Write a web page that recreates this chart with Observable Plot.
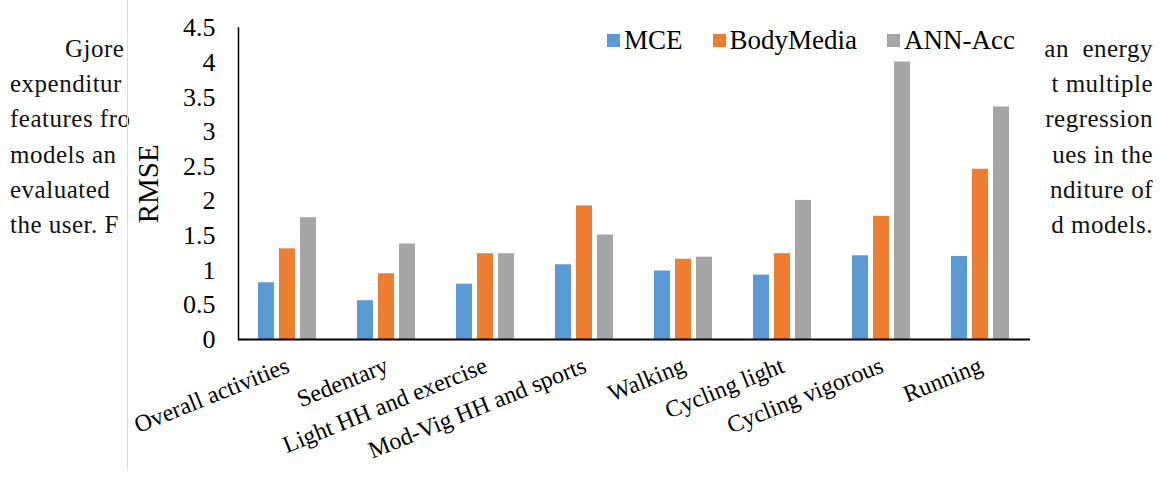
<!DOCTYPE html>
<html><head><meta charset="utf-8">
<script src="https://cdn.jsdelivr.net/npm/d3@7"></script>
<script src="https://cdn.jsdelivr.net/npm/@observablehq/plot@0.6"></script>
<style>
html,body{margin:0;padding:0;background:#fff;}
#wrap{position:relative;width:1161px;height:485px;overflow:hidden;}
.paper{position:absolute;top:31px;font-family:"Liberation Serif",serif;font-size:25px;line-height:35.2px;letter-spacing:0.5px;color:#111;}
.paper div{white-space:pre;}
#pl{left:10px;}
#pl .ind{padding-left:55px;}
#pr{right:8px;text-align:right;}
#panel{position:absolute;left:127px;top:0;width:1px;height:470px;background:#dcdcdc;}
#chart{position:absolute;left:0;top:0;}
#legend{position:absolute;left:607px;top:24px;}
#legend .lg-swatch{margin-right:30px;}
#legend .lg-swatch > svg{margin-right:4px;}
</style></head><body>
<div id="wrap">
  <div class="paper" id="pl"><div class="ind">Gjore</div><div>expenditur</div><div>features fro</div><div>models an</div><div>evaluated</div><div>the user. F</div></div>
  <div class="paper" id="pr"><div>an  energy</div><div>t multiple</div><div>regression</div><div>ues in the</div><div>nditure of</div><div>d models.</div></div>
  <div id="panel"></div>
  <div id="chart"></div>
  <div id="legend"></div>
</div>
<script>
const categories = ["Overall activities","Sedentary","Light HH and exercise","Mod-Vig HH and sports","Walking","Cycling light","Cycling vigorous","Running"];
const series = ["MCE","BodyMedia","ANN-Acc"];
const mce = [0.82,0.56,0.80,1.08,0.99,0.93,1.21,1.20];
const bodyMedia = [1.31,0.95,1.24,1.93,1.16,1.24,1.78,2.46];
const annAcc = [1.76,1.38,1.24,1.51,1.19,2.01,4.01,3.36];
const yTicks = [0,0.5,1,1.5,2,2.5,3,3.5,4,4.5];
const colors = ["#5B9BD5","#ED7D31","#A5A5A5"];

const valuesBySeries = [mce, bodyMedia, annAcc];
const data = categories.flatMap((c, i) => series.map((s, j) => ({category: c, series: s, value: valuesBySeries[j][i]})));

const font = "'Liberation Serif', 'Times New Roman', serif";
const chart = Plot.plot({
  width: 1161, height: 485,
  marginLeft: 238, marginRight: 131, marginTop: 27.6, marginBottom: 146,
  style: {fontFamily: font, fontSize: "25px", color: "#000", background: "transparent", overflow: "visible"},
  fx: {domain: categories, padding: 0, label: null},
  x: {domain: series, paddingInner: 0.227, paddingOuter: 0.864, axis: null},
  y: {domain: [0, 4.5], label: "RMSE"},
  color: {domain: series, range: colors},
  marks: [
    Plot.barY(data, {fx: "category", x: "series", y: "value", fill: "series"}),
    Plot.ruleY([0], {stroke: "#000", strokeWidth: 2}),
    Plot.frame({anchor: "left", facet: "super", stroke: "#000", strokeWidth: 1.5}),
    Plot.axisY({ticks: yTicks, tickSize: 0, tickPadding: 23, tickFormat: d => `${d}`, label: null, fontSize: 26}),
    Plot.axisY({ticks: [], tickSize: 0, label: "RMSE", labelAnchor: "center", labelArrow: "none", labelOffset: 101, fontSize: 29}),
    Plot.axisFx({anchor: "bottom", tickSize: 0, tickPadding: 25, tickRotate: -22, label: null, fontSize: 24})
  ]
});
document.getElementById("chart").appendChild(chart);

const legend = Plot.legend({
  color: {domain: series, range: colors},
  legend: "swatches",
  swatchSize: 13,
  className: "lg",
  style: {fontFamily: font, fontSize: "27px", color: "#000"}
});
document.getElementById("legend").appendChild(legend);
</script>
</body></html>
